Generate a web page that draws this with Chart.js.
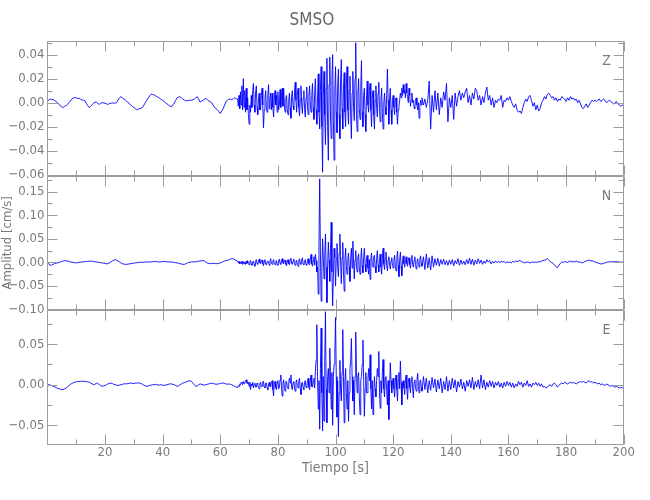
<!DOCTYPE html>
<html>
<head>
<meta charset="utf-8">
<title>SMSO</title>
<script src="https://cdn.jsdelivr.net/npm/chart.js@4/dist/chart.umd.min.js"></script>
<style>
  html, body { margin: 0; padding: 0; background: #fff; }
</style>
</head>
<body>
<canvas id="mycanvas" width="650" height="500"></canvas>
<script>
// each record in three pieces: quiet start (0.5 s samples from 0 s),
// strong motion (0.25 s samples from 66 s), coda (0.5 s samples from 130 s)
const headStart = 0, headStep = 0.5;
const bodyStart = 66, bodyStep = 0.25;
const tailStart = 130, tailStep = 0.5;

const channels = ["Z", "N", "E"];

// velocity, cm/s
const zHead = [
  .0014,.0022,.003,.0026,.0025,.0018,.001,0,-.0015,-.0026,-.0035,-.004,-.003,-.0024,-.0015,.0002,.0015,.003,.004,.0042,
  .004,.0036,.0035,.0028,.0023,.002,.0015,-.0005,-.0025,-.004,-.003,-.0018,-.0005,.0004,.0005,-.0006,-.0015,-.0006,0,-.0003,
  -.0005,-.001,-.0015,-.0008,-.0005,-.0002,-.0005,-.0003,0,.0022,.004,.005,.004,.0032,.0025,.0013,0,-.001,-.002,-.0032,
  -.004,-.005,-.006,-.0054,-.005,-.0046,-.004,-.002,0,.002,.004,.0056,.007,.0068,.0065,.0058,.005,.0043,.0035,.0026,
  .002,.001,0,-.001,-.002,-.0028,-.0035,-.002,-.0005,.0018,.004,.0046,.005,.004,.003,.0022,.0015,.0016,.0018,.002,
  .002,.0024,.003,.004,.005,.0028,.0005,.0012,.002,.0028,.0035,.0025,.0015,.0008,0,-.002,-.004,-.005,-.006,-.0075,
  -.009,-.007,-.005,-.002,.001,.002,.003,.0028,.0025,.0032,.004,.0034
];
const zBody = [
  .003,-.003,.006,-.005,.009,-.002,.014,-.006,.02,-.004,.01,-.008,.012,-.006,.004,-.01,
  -.018,-.002,-.008,.006,-.004,.01,.016,-.002,-.008,.008,.014,-.004,-.01,.003,.008,-.006,
  -.006,.006,.012,-.002,-.021,-.006,.004,.01,-.004,-.008,.006,.015,-.005,.002,.008,-.006,
  .008,-.004,-.012,.003,.01,-.002,.006,-.008,.009,-.006,-.002,.011,-.004,.006,.012,-.003,
  .012,-.002,-.008,.004,.006,-.006,-.01,.002,.008,-.004,-.013,.005,.01,-.003,-.006,.008,
  .017,.002,-.008,.006,.012,-.004,-.011,.003,.014,-.002,-.009,.004,.01,-.005,-.012,.004,
  .013,-.003,-.01,.005,.014,-.002,-.008,.006,.016,-.004,-.014,.008,.02,-.006,-.018,.004,
  .024,-.008,-.022,.01,.03,-.02,-.058,.005,.026,-.01,-.035,.012,.037,-.02,-.048,.015,
  .038,-.012,-.03,.02,.04,-.015,-.048,.01,.03,-.008,-.025,.015,.028,-.01,-.03,.018,
  .036,-.005,-.022,.012,.025,-.008,-.02,.015,.03,-.006,-.018,.01,.022,-.012,-.03,.008,
  .026,-.004,-.015,.02,.05,-.01,-.024,.008,.02,-.005,-.014,.012,.035,-.008,-.02,.006,
  .012,-.01,-.024,.006,.018,-.002,-.008,.01,.016,-.006,-.02,.004,.01,-.01,-.022,.002,
  .014,-.004,-.012,.008,.017,-.005,-.016,.003,.012,-.008,-.022,0,.008,-.004,-.01,.006,
  .028,.002,-.018,.004,.012,-.006,-.018,.002,.006,-.004,-.01,.002,.004,-.008,-.018,-.006,
  -.003,.002,.008,.004,.012,.006,.015,.008,.01,.004,.016,.008,.005,0,.012,.006,
  -.003,.002,.008,0,.002,-.004,-.005,.002,.004,-.002,-.006,0,-.013,-.004,.002,-.002
];
const zTail = [
  .004,-.002,.003,-.004,.002,.018,-.022,.006,-.008,.01,-.006,.008,-.01,.004,-.004,.009,.002,.016,-.016,.004,
  -.004,.006,-.014,.008,-.003,.005,.01,.002,.008,.004,.009,.012,0,.006,-.002,.008,.003,.012,.01,.002,
  .006,-.002,.005,0,.008,.013,.002,.006,-.002,.004,-.004,.002,0,.003,.002,.006,-.004,.002,.001,.004,
  .002,.005,.001,-.002,-.004,-.001,-.006,-.008,-.007,-.009,-.004,0,.003,.001,.005,.006,.002,-.003,0,-.006,
  -.002,-.007,-.005,0,.002,.005,.003,.007,.008,.006,.004,.005,.002,.004,.001,.003,.002,.005,.004,.003,
  .001,.004,.002,.005,.003,.004,.002,.003,0,.002,-.001,-.004,-.005,-.003,-.001,-.004,-.002,0,.002,.001,
  .002,.001,.002,.003,.001,.002,.003,.002,0,.001,.002,.001,0,-.001,0,.001,-.001,-.002,-.003,-.002,
  -.003
];

const nHead = [
  0,-.003,-.006,-.0055,-.004,-.0025,-.0015,-.001,0,.001,.002,.003,.004,.0035,.003,.002,.001,.0005,0,-.0005,
  -.001,-.0005,0,.0005,.001,.0015,.0015,.002,.0025,.0025,.003,.0025,.002,.0015,.001,.0005,0,-.0005,-.001,-.0015,
  -.002,-.003,-.0025,-.001,.001,.003,.0045,.006,.005,.003,.001,-.001,-.0025,-.0035,-.004,-.004,-.0035,-.003,-.0025,-.002,
  -.0015,-.001,-.0005,0,0,.0005,.0003,.0005,.0008,.001,.001,.0012,.001,.0015,.002,.0022,.0015,.0012,.001,.0015,
  .0015,.002,.0018,.0015,.001,.0008,.001,.0005,0,-.0005,-.001,-.0015,-.0025,-.0035,-.004,-.004,-.003,-.0015,0,.0005,
  .001,.0015,.001,.0015,.002,.0025,.003,.0035,.004,.003,.001,-.0015,-.002,-.0025,-.0025,-.002,-.002,-.0025,-.0025,-.002,
  -.001,0,.002,.003,.004,.0045,.0055,.007,.008,.0075,.006,.004
];
const nBody = [
  .003,-.001,.002,-.003,.001,-.002,.003,-.004,.002,-.003,.001,-.004,.003,-.002,.004,-.003,
  -.005,.002,.004,-.003,-.006,.001,.003,-.004,-.008,.002,.006,-.002,-.004,.003,.007,-.001,
  -.003,.004,.005,-.003,-.007,.002,.006,-.004,-.005,.001,.003,-.002,-.006,.004,.008,-.002,
  -.004,.003,.006,-.003,-.005,.002,.004,-.004,-.006,.003,.007,-.002,-.004,.005,.008,-.001,
  -.003,.004,.005,-.004,-.007,.001,.006,-.003,-.005,.004,.009,-.002,-.004,.003,.007,-.003,
  -.006,.002,.005,-.004,-.008,.003,.008,-.002,-.004,.005,.01,-.003,-.005,.002,.006,-.004,
  -.006,.003,.008,-.002,-.005,.006,.017,-.003,-.008,.004,.012,-.006,.017,.004,-.02,-.01,
  -.067,.04,.177,.02,-.082,-.02,.05,.01,-.035,.015,.06,-.01,-.085,-.01,.043,.005,
  -.04,.03,.085,-.02,-.092,-.03,.03,.01,-.05,.01,.04,-.01,-.03,.02,.06,.005,
  -.045,.01,.042,-.02,-.061,.005,.03,-.008,-.025,.006,.02,-.01,-.04,.008,.03,-.012,
  .045,.008,-.035,.005,.025,-.008,-.02,.01,.018,-.01,-.025,.006,.03,-.006,-.022,.01,
  .03,-.004,-.02,.008,.015,-.012,-.025,.006,-.036,.01,.02,-.006,-.01,.012,.015,-.008,
  -.022,.008,.025,-.005,-.02,.006,.018,-.01,-.025,.008,.03,-.004,-.015,.01,.022,-.006,
  -.018,.006,.012,-.005,-.014,.004,.01,-.006,-.012,.005,.015,-.008,-.018,.008,.024,-.006,
  -.03,.005,.022,-.008,-.028,.004,.014,-.003,-.01,.004,.012,-.003,-.008,.005,.01,-.004,
  -.012,.006,.015,-.004,-.01,.004,.012,-.005,-.014,.002,.008,-.004,-.01,.006,.014,-.002
];
const nTail = [
  -.008,.012,-.015,.018,-.012,.01,-.016,.014,-.01,.008,-.006,.009,-.008,.006,-.004,.007,-.005,.004,-.006,.005,
  -.004,.006,-.007,.004,-.003,.008,-.006,.005,-.004,.003,-.005,.006,-.003,.009,-.004,.007,-.006,.005,-.003,.008,
  -.002,.005,-.004,.003,-.002,.006,.001,.004,-.003,.002,-.001,.003,0,.002,-.001,.003,.001,.002,-.001,.001,
  0,.001,-.001,.002,.001,.003,.002,.003,.004,.002,.001,-.001,0,.001,0,-.001,0,.001,0,.001,
  0,.002,.001,.003,.004,.005,.006,.008,.005,.002,0,-.002,-.006,-.009,-.011,-.006,-.002,.001,0,.002,
  .001,0,.002,.003,.001,.002,.001,.003,.002,0,.001,-.001,0,.002,.003,.004,.005,.003,.004,.002,
  .001,0,-.001,-.002,-.003,-.003,-.002,-.001,0,.001,.001,.002,.001,.002,.001,.002,.001,.001,0,.001,
  .001
];

const eHead = [
  0,0,-.0005,-.001,-.002,-.0025,-.0035,-.0045,-.005,-.0055,-.006,-.006,-.005,-.004,-.0025,-.001,.0005,.0015,.0025,.003,
  .0035,.004,.004,.004,.0045,.0042,.004,.004,.0035,.003,.002,.001,0,.0005,.002,.0015,0,-.001,-.002,-.0015,
  -.001,0,.001,.0015,.002,.0015,.0005,0,-.0005,-.001,-.0005,0,.0005,.001,.0012,.001,.0015,.002,.002,.0015,
  .0015,.002,.002,.0022,.002,.0015,.0005,-.0005,-.0015,-.002,-.0015,-.001,-.0005,0,0,.0005,0,-.0005,-.0003,0,
  -.0005,-.001,-.0005,0,.0005,.001,.001,.0005,0,-.001,-.002,-.0015,0,.001,.002,.0025,.003,.004,.0045,.005,
  .004,.002,0,-.002,-.0015,0,.001,.0005,0,-.0005,0,.0005,.001,.0015,.002,.0015,.001,.0005,.0008,.001,
  .0015,.002,.002,.0015,.001,.0005,.001,.0005,0,-.001,-.002,-.003
];
const eBody = [
  -.0035,-.001,-.002,.001,0,.003,.002,0,.004,.001,.002,.005,.006,.002,.001,.003,
  -.002,.003,-.006,.001,-.001,.003,-.004,0,.002,-.003,-.003,.002,.001,-.004,-.005,.002,
  .003,-.002,-.002,.004,.004,-.003,-.004,.002,.002,-.004,-.006,.001,.003,-.002,-.003,.004,
  .005,-.006,-.014,.002,.004,-.004,-.006,.003,.005,-.005,-.003,.006,.012,-.004,-.014,.002,
  .006,-.003,-.008,.004,.004,-.002,-.005,.003,.008,.002,.012,-.003,-.006,.002,.004,-.004,
  -.008,.003,.006,-.002,-.004,.004,.008,-.005,-.012,.002,.003,-.004,-.006,.003,.005,-.003,
  -.004,.004,.008,-.003,-.006,.005,.012,-.002,-.003,.004,.008,-.004,.016,.03,.074,.01,
  -.03,.005,-.055,.02,.07,-.01,-.057,.01,-.045,.03,.09,-.005,-.047,.01,.02,-.01,
  .045,.005,-.03,.015,-.05,.01,.025,.04,.083,.01,-.04,.005,-.064,-.01,.03,-.005,
  -.02,.015,.068,.01,-.047,.005,.02,-.01,-.03,.005,-.045,-.01,.02,.03,.057,.01,
  -.02,.005,-.037,.01,.065,.015,-.01,.01,.015,-.015,-.037,.005,.01,.025,.055,.005,
  -.039,-.005,.015,-.01,-.01,.008,.02,.005,.037,-.005,-.03,.005,-.037,-.01,.01,-.005,
  -.015,.005,.02,.01,.041,-.01,-.029,.005,-.01,.015,.031,-.005,-.015,.008,.01,-.008,
  -.025,.005,-.043,-.005,.027,.005,-.01,.003,.008,-.005,-.015,.004,.012,-.006,-.02,.005,
  .015,-.005,.029,.003,-.025,.002,.005,-.004,-.012,.006,.012,-.005,-.018,.004,.008,-.003,
  -.01,.005,.01,-.004,-.016,.003,.006,-.003,-.008,.005,.014,-.002,-.01,.004,.006,-.003
];
const eTail = [
  -.008,.01,-.006,.008,-.01,.005,-.007,.009,-.004,.007,-.009,.006,-.005,.008,-.01,.004,-.006,.01,-.008,.005,
  -.006,.008,-.004,.006,-.009,.004,-.003,.007,-.005,.003,-.008,.005,-.002,.006,-.004,.009,-.006,.004,-.003,.006,
  -.005,.012,-.004,.006,-.006,.003,-.003,.005,-.002,.004,-.004,.003,-.001,.004,-.003,.002,-.004,.003,-.002,.004,
  -.001,.003,-.003,.002,-.004,.001,-.002,.004,0,.003,-.003,.002,-.001,.005,-.002,.001,-.003,.002,0,.003,
  -.001,.002,-.002,.001,-.003,-.002,-.004,-.003,-.001,0,-.002,.001,.002,0,-.003,-.001,.001,.002,.001,.003,
  .002,.001,.002,.003,.002,.003,.002,.001,.002,.003,.004,.003,.004,.003,.002,.004,.005,.003,.004,.002,
  .003,.002,.001,.002,0,.001,0,-.001,.001,0,-.001,-.002,-.001,-.002,-.003,-.002,-.003,-.004,-.003,-.004,
  -.004
];

// tick values (labelled) and the short unlabelled ones between them
const xTicks = [0, 20, 40, 60, 80, 100, 120, 140, 160, 180, 200];
const xMinor = [10, 30, 50, 70, 90, 110, 130, 150, 170, 190];
const zTicks = [-0.06, -0.04, -0.02, 0, 0.02, 0.04];
const zMinor = [-0.05, -0.03, -0.01, 0.01, 0.03, 0.05];
const nTicks = [-0.10, -0.05, 0, 0.05, 0.10, 0.15];
const nMinor = [-0.075, -0.025, 0.025, 0.075, 0.125, 0.175];
const eTicks = [-0.05, 0, 0.05];
const eMinor = [-0.025, 0.025, 0.075];

const FONT = "'Liberation Sans Narrow', 'DejaVu Sans Condensed', 'Liberation Sans', sans-serif";
const GREY = "#7a7a7a";
const FRAME = "#9c9c9c";

const piece = (v, t0, step) => v.map((y, i) => ({ x: t0 + i * step, y: y }));
const record = (head, body, tail) => [].concat(
    piece(head, headStart, headStep),
    piece(body, bodyStart, bodyStep),
    piece(tail, tailStart, tailStep)
);
const fmt = v => (v < 0 ? "\u2212" : "") + Math.abs(v).toFixed(2);

const panels = [
    { id: "yZ", name: channels[0], major: zTicks, minor: zMinor },
    { id: "yN", name: channels[1], major: nTicks, minor: nMinor },
    { id: "yE", name: channels[2], major: eTicks, minor: eMinor }
];

function yAxis(min, max, major, title) {
    return {
        type: "linear",
        position: "left",
        stack: "traces",
        stackWeight: 1,
        min: min,
        max: max,
        afterBuildTicks: s => { s.ticks = major.map(v => ({ value: v })); },
        afterFit: s => { s.width = 47.4; },
        grid: { display: false, drawTicks: false },
        border: { display: false },
        ticks: {
            autoSkip: false,
            padding: 3,
            color: GREY,
            font: { family: FONT, size: 13 },
            callback: v => fmt(v)
        },
        title: {
            display: !!title,
            text: title || "",
            color: GREY,
            font: { family: FONT, size: 13 },
            padding: { top: 0, bottom: 0 }
        }
    };
}

// box round each panel, with inward ticks on all four sides, and the channel letter
const framePlugin = {
    id: "frame",
    afterDraw(chart) {
        const ctx = chart.ctx;
        const x = chart.scales.x;
        const l = Math.round(x.left) + 0.5, r = Math.round(x.right) - 0.5;
        ctx.save();
        ctx.strokeStyle = FRAME;
        ctx.lineWidth = 1;
        panels.forEach(p => {
            const s = chart.scales[p.id];
            const t = Math.round(s.top) + 0.5, b = Math.round(s.bottom) - 0.5;
            ctx.beginPath();
            ctx.rect(l, t, r - l, b - t);
            const ySide = (vals, len) => vals.forEach(v => {
                const py = Math.round(s.getPixelForValue(v)) + 0.5;
                ctx.moveTo(l, py); ctx.lineTo(l + len, py);
                ctx.moveTo(r, py); ctx.lineTo(r - len, py);
            });
            const xSide = (vals, len) => vals.forEach(v => {
                const px = Math.round(x.getPixelForValue(v)) + 0.5;
                ctx.moveTo(px, t); ctx.lineTo(px, t + len);
                ctx.moveTo(px, b); ctx.lineTo(px, b - len);
            });
            ySide(p.major, 10);
            ySide(p.minor, 5);
            xSide(xTicks, 10);
            xSide(xMinor, 5);
            ctx.stroke();

            ctx.fillStyle = GREY;
            ctx.font = "14px " + FONT;
            ctx.textAlign = "center";
            ctx.textBaseline = "middle";
            ctx.fillText(p.name, r - 17, t + 20);
        });
        ctx.restore();
    }
};

const ctx = document.getElementById("mycanvas").getContext("2d");

const chart = new Chart(ctx, {
    type: "line",
    data: {
        datasets: [
            { label: channels[0], data: record(zHead, zBody, zTail), yAxisID: "yZ" },
            { label: channels[1], data: record(nHead, nBody, nTail), yAxisID: "yN" },
            { label: channels[2], data: record(eHead, eBody, eTail), yAxisID: "yE" }
        ]
    },
    options: {
        responsive: false,
        animation: false,
        events: [],
        parsing: false,
        elements: {
            line: { borderColor: "#0000ff", borderWidth: 0.9, tension: 0 },
            point: { radius: 0 }
        },
        layout: {
            padding: { top: 0, left: 0, right: 26.3, bottom: 0 }
        },
        scales: {
            x: {
                type: "linear",
                position: "bottom",
                min: 0,
                max: 200,
                afterBuildTicks: s => { s.ticks = xTicks.map(v => ({ value: v })); },
                afterFit: s => { s.height = 55.3; },
                grid: { display: false, drawTicks: false },
                border: { display: false },
                ticks: {
                    autoSkip: false,
                    maxRotation: 0,
                    padding: 0,
                    color: GREY,
                    font: { family: FONT, size: 13 },
                    callback: v => (v === 0 ? "" : String(v))
                },
                title: {
                    display: true,
                    text: "Tiempo [s]",
                    color: GREY,
                    font: { family: FONT, size: 14 },
                    padding: { top: 0, bottom: 23.6 }
                }
            },
            yE: yAxis(-0.074, 0.092, eTicks),
            yN: yAxis(-0.101, 0.184, nTicks, "Amplitud [cm/s]"),
            yZ: yAxis(-0.0608, 0.0514, zTicks)
        },
        plugins: {
            legend: { display: false },
            tooltip: { enabled: false },
            title: {
                display: true,
                text: "SMSO",
                color: "#666666",
                font: { family: FONT, size: 17, weight: "normal" },
                padding: { top: 10, bottom: 10.6 }
            }
        }
    },
    plugins: [framePlugin]
});
</script>
</body>
</html>
